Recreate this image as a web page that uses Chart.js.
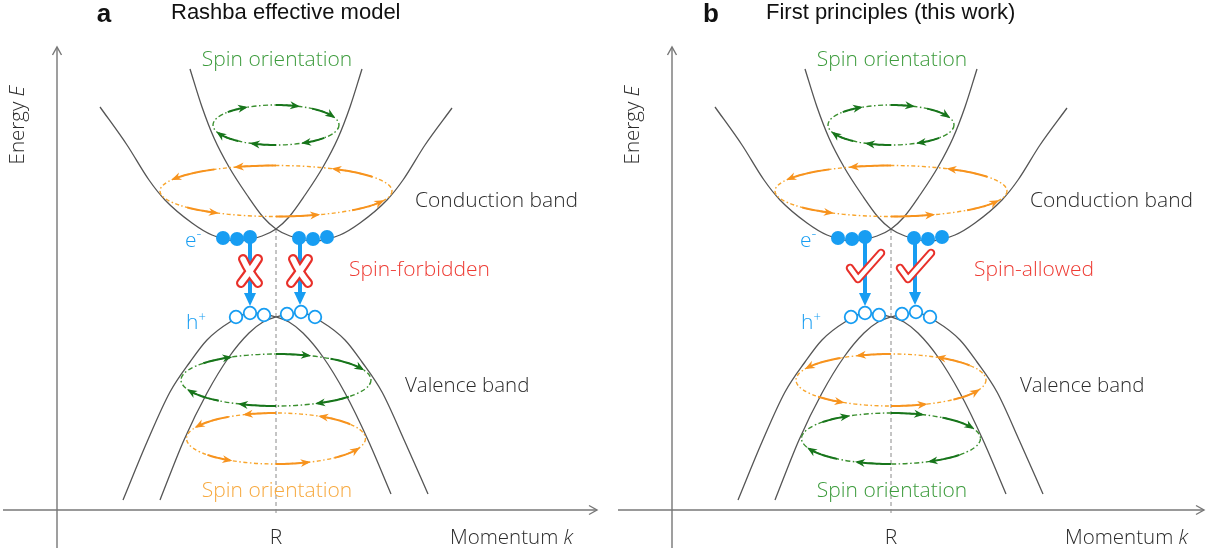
<!DOCTYPE html>
<html>
<head>
<meta charset="utf-8">
<script src="https://cdn.jsdelivr.net/npm/chart.js@4.4.0/dist/chart.umd.min.js"></script>
<style>
  html, body { margin: 0; padding: 0; background: #fff; }
  #wrap { position: relative; width: 1206px; height: 554px; overflow: hidden; }
  #panelA { position: absolute; left: 0; top: 0; }
  #panelB { position: absolute; left: 615px; top: 0; }
</style>
</head>
<body>
<div id="wrap">
  <canvas id="panelA" width="603" height="554"></canvas>
  <canvas id="panelB" width="591" height="554"></canvas>
</div>
<script>
// momentum k is measured from R, energy E from the momentum axis
const cbLeftK = [-1.76, -1.49, -1.27, -1.11, -0.84, -0.64, -0.38, -0.14, 0, 0.13, 0.29, 0.47, 0.62, 0.74, 0.86];
const cbLeftE = [4.03, 3.65, 3.30, 3.10, 2.87, 2.75, 2.69, 2.74, 2.81, 2.93, 3.15, 3.43, 3.72, 4.03, 4.41];
const cbRightK = [-0.86, -0.74, -0.62, -0.47, -0.29, -0.13, 0, 0.14, 0.38, 0.64, 0.84, 1.11, 1.27, 1.49, 1.76];
const cbRightE = [4.41, 4.03, 3.72, 3.43, 3.15, 2.93, 2.81, 2.74, 2.69, 2.75, 2.87, 3.10, 3.30, 3.65, 4.02];

const vbLeftK = [-1.53, -1.29, -1.06, -0.86, -0.69, -0.46, -0.26, -0.12, 0, 0.13, 0.27, 0.47, 0.69, 0.92, 1.15];
const vbLeftE = [0.10, 0.68, 1.18, 1.48, 1.70, 1.88, 1.97, 1.96, 1.93, 1.88, 1.77, 1.53, 1.17, 0.70, 0.16];
const vbRightK = [-1.16, -0.92, -0.69, -0.47, -0.27, -0.13, 0, 0.12, 0.26, 0.46, 0.69, 0.86, 1.06, 1.29, 1.52];
const vbRightE = [0.10, 0.70, 1.17, 1.53, 1.77, 1.88, 1.93, 1.96, 1.97, 1.88, 1.70, 1.48, 1.18, 0.68, 0.16];

// electrons at the conduction minima, holes at the valence maxima
const elecK = [-0.53, -0.39, -0.26, 0.23, 0.37, 0.51];
const elecE = [2.72, 2.71, 2.73, 2.72, 2.71, 2.73];
const holeK = [-0.40, -0.26, -0.12, 0.11, 0.25, 0.39];
const holeE = [1.93, 1.97, 1.95, 1.96, 1.98, 1.93];

// optical transitions (electron -> hole)
const transK = [-0.26, 0.24];
const transFromE = [2.73, 2.72];
const transToE = [2.04, 2.05];

// spin loops: centre energy, half width in k, half height in E
const loopE = [3.85, 3.19, 1.30, 0.715];
const loopRk = [0.63, 1.16, 0.95, 0.895];
const loopRe = [0.20, 0.255, 0.26, 0.255];
const loopColorA = ['green', 'orange', 'green', 'orange'];
const loopColorB = ['green', 'orange', 'orange', 'green'];

// arrow arcs on the loops, degrees (start, end)
const greenArrows = [[140, 119], [90, 70], [55, 25], [320, 296], [270, 248], [233, 204]];
const orangeArrows = [[122, 152], [90, 110], [34, 60], [220, 239], [270, 291], [311, 336]];

const axisK = -2.19;
const axisTopE = 4.63;
const axisBottomE = -0.38;

const blue = '#179df2';
const grey = '#555';
const sans = '"Open Sans", "DejaVu Sans", sans-serif';
const helv = '"Liberation Sans", Arial, sans-serif';
const palette = {
  green: { line: '#3a8f2e', arrow: '#17751b', text: '#3c9b3c' },
  orange: { line: '#f8a52c', arrow: '#f7931e', text: '#f7a93f' }
};

function pts(ks, es) {
  return ks.map((k, i) => ({ x: k, y: es[i] }));
}

function drawRuns(ctx, x, y, runs, align) {
  let total = 0;
  runs.forEach(r => { ctx.font = r[1]; total += ctx.measureText(r[0]).width; });
  let cx = align === 'center' ? x - total / 2 : x;
  runs.forEach(r => {
    ctx.font = r[1];
    ctx.fillText(r[0], cx, y + (r[2] || 0));
    cx += ctx.measureText(r[0]).width;
  });
}

function drawLoop(ctx, xs, ys, i, colorName) {
  const col = palette[colorName];
  const cx = xs.getPixelForValue(0);
  const cy = ys.getPixelForValue(loopE[i]);
  const rx = xs.getPixelForValue(loopRk[i]) - cx;
  const ry = cy - ys.getPixelForValue(loopE[i] + loopRe[i]);
  ctx.save();
  ctx.strokeStyle = col.line;
  ctx.lineWidth = 1.4;
  ctx.setLineDash(colorName === 'green' ? [5, 2.5, 1.5, 2.5] : [4, 2.5, 1.5, 2.5]);
  ctx.beginPath();
  ctx.ellipse(cx, cy, rx, ry, 0, 0, Math.PI * 2);
  ctx.stroke();
  ctx.setLineDash([]);
  const arrows = colorName === 'green' ? greenArrows : orangeArrows;
  arrows.forEach(a => {
    ctx.strokeStyle = col.arrow;
    ctx.fillStyle = col.arrow;
    ctx.lineWidth = 2;
    ctx.beginPath();
    for (let s = 0; s <= 12; s++) {
      const t = (a[0] + (a[1] - a[0]) * s / 12) * Math.PI / 180;
      const px = cx + rx * Math.cos(t), py = cy - ry * Math.sin(t);
      if (s === 0) ctx.moveTo(px, py); else ctx.lineTo(px, py);
    }
    ctx.stroke();
    const t2 = a[1] * Math.PI / 180;
    const sg = Math.sign(a[1] - a[0]);
    let dx = -rx * Math.sin(t2) * sg, dy = -ry * Math.cos(t2) * sg;
    const len = Math.hypot(dx, dy);
    dx /= len; dy /= len;
    const tx = cx + rx * Math.cos(t2), ty = cy - ry * Math.sin(t2);
    ctx.beginPath();
    ctx.moveTo(tx + dx * 2.5, ty + dy * 2.5);
    ctx.lineTo(tx - dx * 7.5 - dy * 4, ty - dy * 7.5 + dx * 4);
    ctx.lineTo(tx - dx * 4.5, ty - dy * 4.5);
    ctx.lineTo(tx - dx * 7.5 + dy * 4, ty - dy * 7.5 - dx * 4);
    ctx.closePath();
    ctx.fill();
  });
  ctx.restore();
}

function outlined(ctx, buildPath, outer, inner) {
  ctx.save();
  ctx.lineCap = 'round';
  ctx.lineJoin = 'round';
  buildPath();
  ctx.strokeStyle = '#e8302a';
  ctx.lineWidth = outer;
  ctx.stroke();
  buildPath();
  ctx.strokeStyle = '#fff';
  ctx.lineWidth = inner;
  ctx.stroke();
  ctx.restore();
}

const schematic = {
  id: 'schematic',
  afterDatasetsDraw(chart, args, opts) {
    const ctx = chart.ctx;
    const xs = chart.scales.x, ys = chart.scales.y;
    // axis arrow heads
    ctx.save();
    ctx.strokeStyle = '#777';
    ctx.lineWidth = 1.4;
    const ax = xs.getPixelForValue(axisK), ay = ys.getPixelForValue(axisTopE);
    ctx.beginPath();
    ctx.moveTo(ax - 4.5, ay + 8); ctx.lineTo(ax, ay); ctx.lineTo(ax + 4.5, ay + 8);
    ctx.stroke();
    const bx = xs.getPixelForValue(opts.axisEndK), by = ys.getPixelForValue(0);
    ctx.beginPath();
    ctx.moveTo(bx - 8, by - 4.5); ctx.lineTo(bx, by); ctx.lineTo(bx - 8, by + 4.5);
    ctx.stroke();
    ctx.restore();

    // spin loops
    opts.loopColors.forEach((c, i) => drawLoop(ctx, xs, ys, i, c));

    // transitions
    ctx.save();
    ctx.strokeStyle = blue;
    ctx.fillStyle = blue;
    transK.forEach((k, i) => {
      const x = xs.getPixelForValue(k);
      const y0 = ys.getPixelForValue(transFromE[i]);
      const y1 = ys.getPixelForValue(transToE[i]);
      ctx.lineWidth = 4;
      ctx.beginPath();
      ctx.moveTo(x, y0);
      ctx.lineTo(x, y1 - 10);
      ctx.stroke();
      ctx.beginPath();
      ctx.moveTo(x - 6, y1 - 13);
      ctx.lineTo(x + 6, y1 - 13);
      ctx.lineTo(x, y1);
      ctx.closePath();
      ctx.fill();
    });
    ctx.restore();

    // selection-rule marks
    transK.forEach(k => {
      const x = xs.getPixelForValue(k);
      if (opts.mark === 'cross') {
        const y = ys.getPixelForValue(2.39);
        outlined(ctx, () => {
          ctx.beginPath();
          ctx.moveTo(x - 7, y - 12);
          ctx.quadraticCurveTo(x - 1, y + 1, x + 8, y + 12);
          ctx.moveTo(x + 8, y - 12);
          ctx.quadraticCurveTo(x + 1, y - 1, x - 9, y + 12);
        }, 10, 5.5);
      } else {
        const y = ys.getPixelForValue(2.44);
        outlined(ctx, () => {
          ctx.beginPath();
          ctx.moveTo(x - 15, y + 2);
          ctx.lineTo(x - 7, y + 13);
          ctx.lineTo(x + 16, y - 13);
        }, 8.5, 4.5);
      }
    });

    // texts
    ctx.save();
    ctx.textBaseline = 'middle';
    opts.labels.forEach(l => {
      ctx.fillStyle = l.color;
      const x = xs.getPixelForValue(l.k), y = ys.getPixelForValue(l.E);
      if (l.rot) {
        ctx.save();
        ctx.translate(x, y);
        ctx.rotate(l.rot);
        drawRuns(ctx, 0, 0, l.runs, l.align);
        ctx.restore();
      } else {
        drawRuns(ctx, x, y, l.runs, l.align);
      }
    });
    ctx.restore();
  }
};

function commonLabels(bottomColor, ruleText, ruleK) {
  const f21 = '300 21px ' + sans;
  const f20 = '300 20.5px ' + sans;
  return [
    { k: -2.58, E: 3.85, rot: -Math.PI / 2, align: 'center', color: '#2b2b2b',
      runs: [['Energy ', f20], ['E', 'italic ' + f20]] },
    { k: 0.01, E: 4.50, align: 'center', color: palette.green.text, runs: [['Spin orientation', f21]] },
    { k: 1.39, E: 3.09, align: 'left', color: '#2b2b2b', runs: [['Conduction band', f21]] },
    { k: 1.29, E: 1.24, align: 'left', color: '#2b2b2b', runs: [['Valence band', f20]] },
    { k: ruleK, E: 2.40, align: 'left', color: '#ee3b33', runs: [[ruleText, f21]] },
    { k: -0.91, E: 2.69, align: 'left', color: blue, runs: [['e', f21], ['-', '300 15px ' + sans, -7]] },
    { k: -0.90, E: 1.87, align: 'left', color: blue, runs: [['h', f21], ['+', '300 13px ' + sans, -6]] },
    { k: 0, E: -0.28, align: 'center', color: '#2b2b2b', runs: [['R', f21]] },
    { k: 1.74, E: -0.28, align: 'left', color: '#2b2b2b', runs: [['Momentum ', f20], ['k', 'italic ' + f20]] },
    { k: 0.01, E: 0.19, align: 'center', color: palette[bottomColor].text, runs: [['Spin orientation', f21]] }
  ];
}

function makePanel(id, maxK, cfg) {
  const curve = (ks, es) => ({
    data: pts(ks, es), showLine: true, pointRadius: 0, borderColor: grey,
    borderWidth: 1.3, cubicInterpolationMode: 'monotone', clip: false
  });
  return new Chart(document.getElementById(id), {
    type: 'scatter',
    data: {
      datasets: [
        { data: pts(elecK, elecE), pointRadius: 7, pointBackgroundColor: blue, pointBorderWidth: 0, clip: false },
        { data: pts(holeK, holeE), pointRadius: 6.3, pointBackgroundColor: '#fff', pointBorderColor: blue, pointBorderWidth: 1.8, clip: false },
        curve(cbLeftK, cbLeftE),
        curve(cbRightK, cbRightE),
        curve(vbLeftK, vbLeftE),
        curve(vbRightK, vbRightE),
        { data: [{ x: 0, y: 2.81 }, { x: 0, y: -0.04 }], showLine: true, pointRadius: 0,
          borderColor: '#8a8a8a', borderWidth: 1, borderDash: [4, 3], clip: false },
        { data: [{ x: axisK, y: axisTopE }, { x: axisK, y: axisBottomE }], showLine: true, pointRadius: 0,
          borderColor: '#777', borderWidth: 1.4, clip: false },
        { data: [{ x: -2.73, y: 0 }, { x: cfg.axisEndK, y: 0 }], showLine: true, pointRadius: 0,
          borderColor: '#777', borderWidth: 1.4, clip: false }
      ]
    },
    options: {
      responsive: false,
      animation: false,
      devicePixelRatio: 1,
      events: [],
      layout: { padding: 0, autoPadding: false },
      scales: {
        x: { type: 'linear', display: false, min: -2.76, max: maxK },
        y: { type: 'linear', display: false, min: -0.44, max: 5.10 }
      },
      plugins: {
        legend: { display: false },
        tooltip: { enabled: false },
        schematic: cfg
      }
    },
    plugins: [schematic]
  });
}

makePanel('panelA', 3.27, {
  axisEndK: 3.21,
  loopColors: loopColorA,
  mark: 'cross',
  labels: [
    { k: -1.72, E: 4.95, align: 'center', color: '#111', runs: [['a', 'bold 26px ' + helv]] },
    { k: -1.05, E: 4.97, align: 'left', color: '#111', runs: [['Rashba effective model', '22px ' + helv]] }
  ].concat(commonLabels('orange', 'Spin-forbidden', 0.73))
});

makePanel('panelB', 3.15, {
  axisEndK: 3.13,
  loopColors: loopColorB,
  mark: 'check',
  labels: [
    { k: -1.80, E: 4.95, align: 'center', color: '#111', runs: [['b', 'bold 26px ' + helv]] },
    { k: -1.25, E: 4.97, align: 'left', color: '#111', runs: [['First principles (this work)', '22px ' + helv]] }
  ].concat(commonLabels('green', 'Spin-allowed', 0.83))
});
</script>
</body>
</html>
